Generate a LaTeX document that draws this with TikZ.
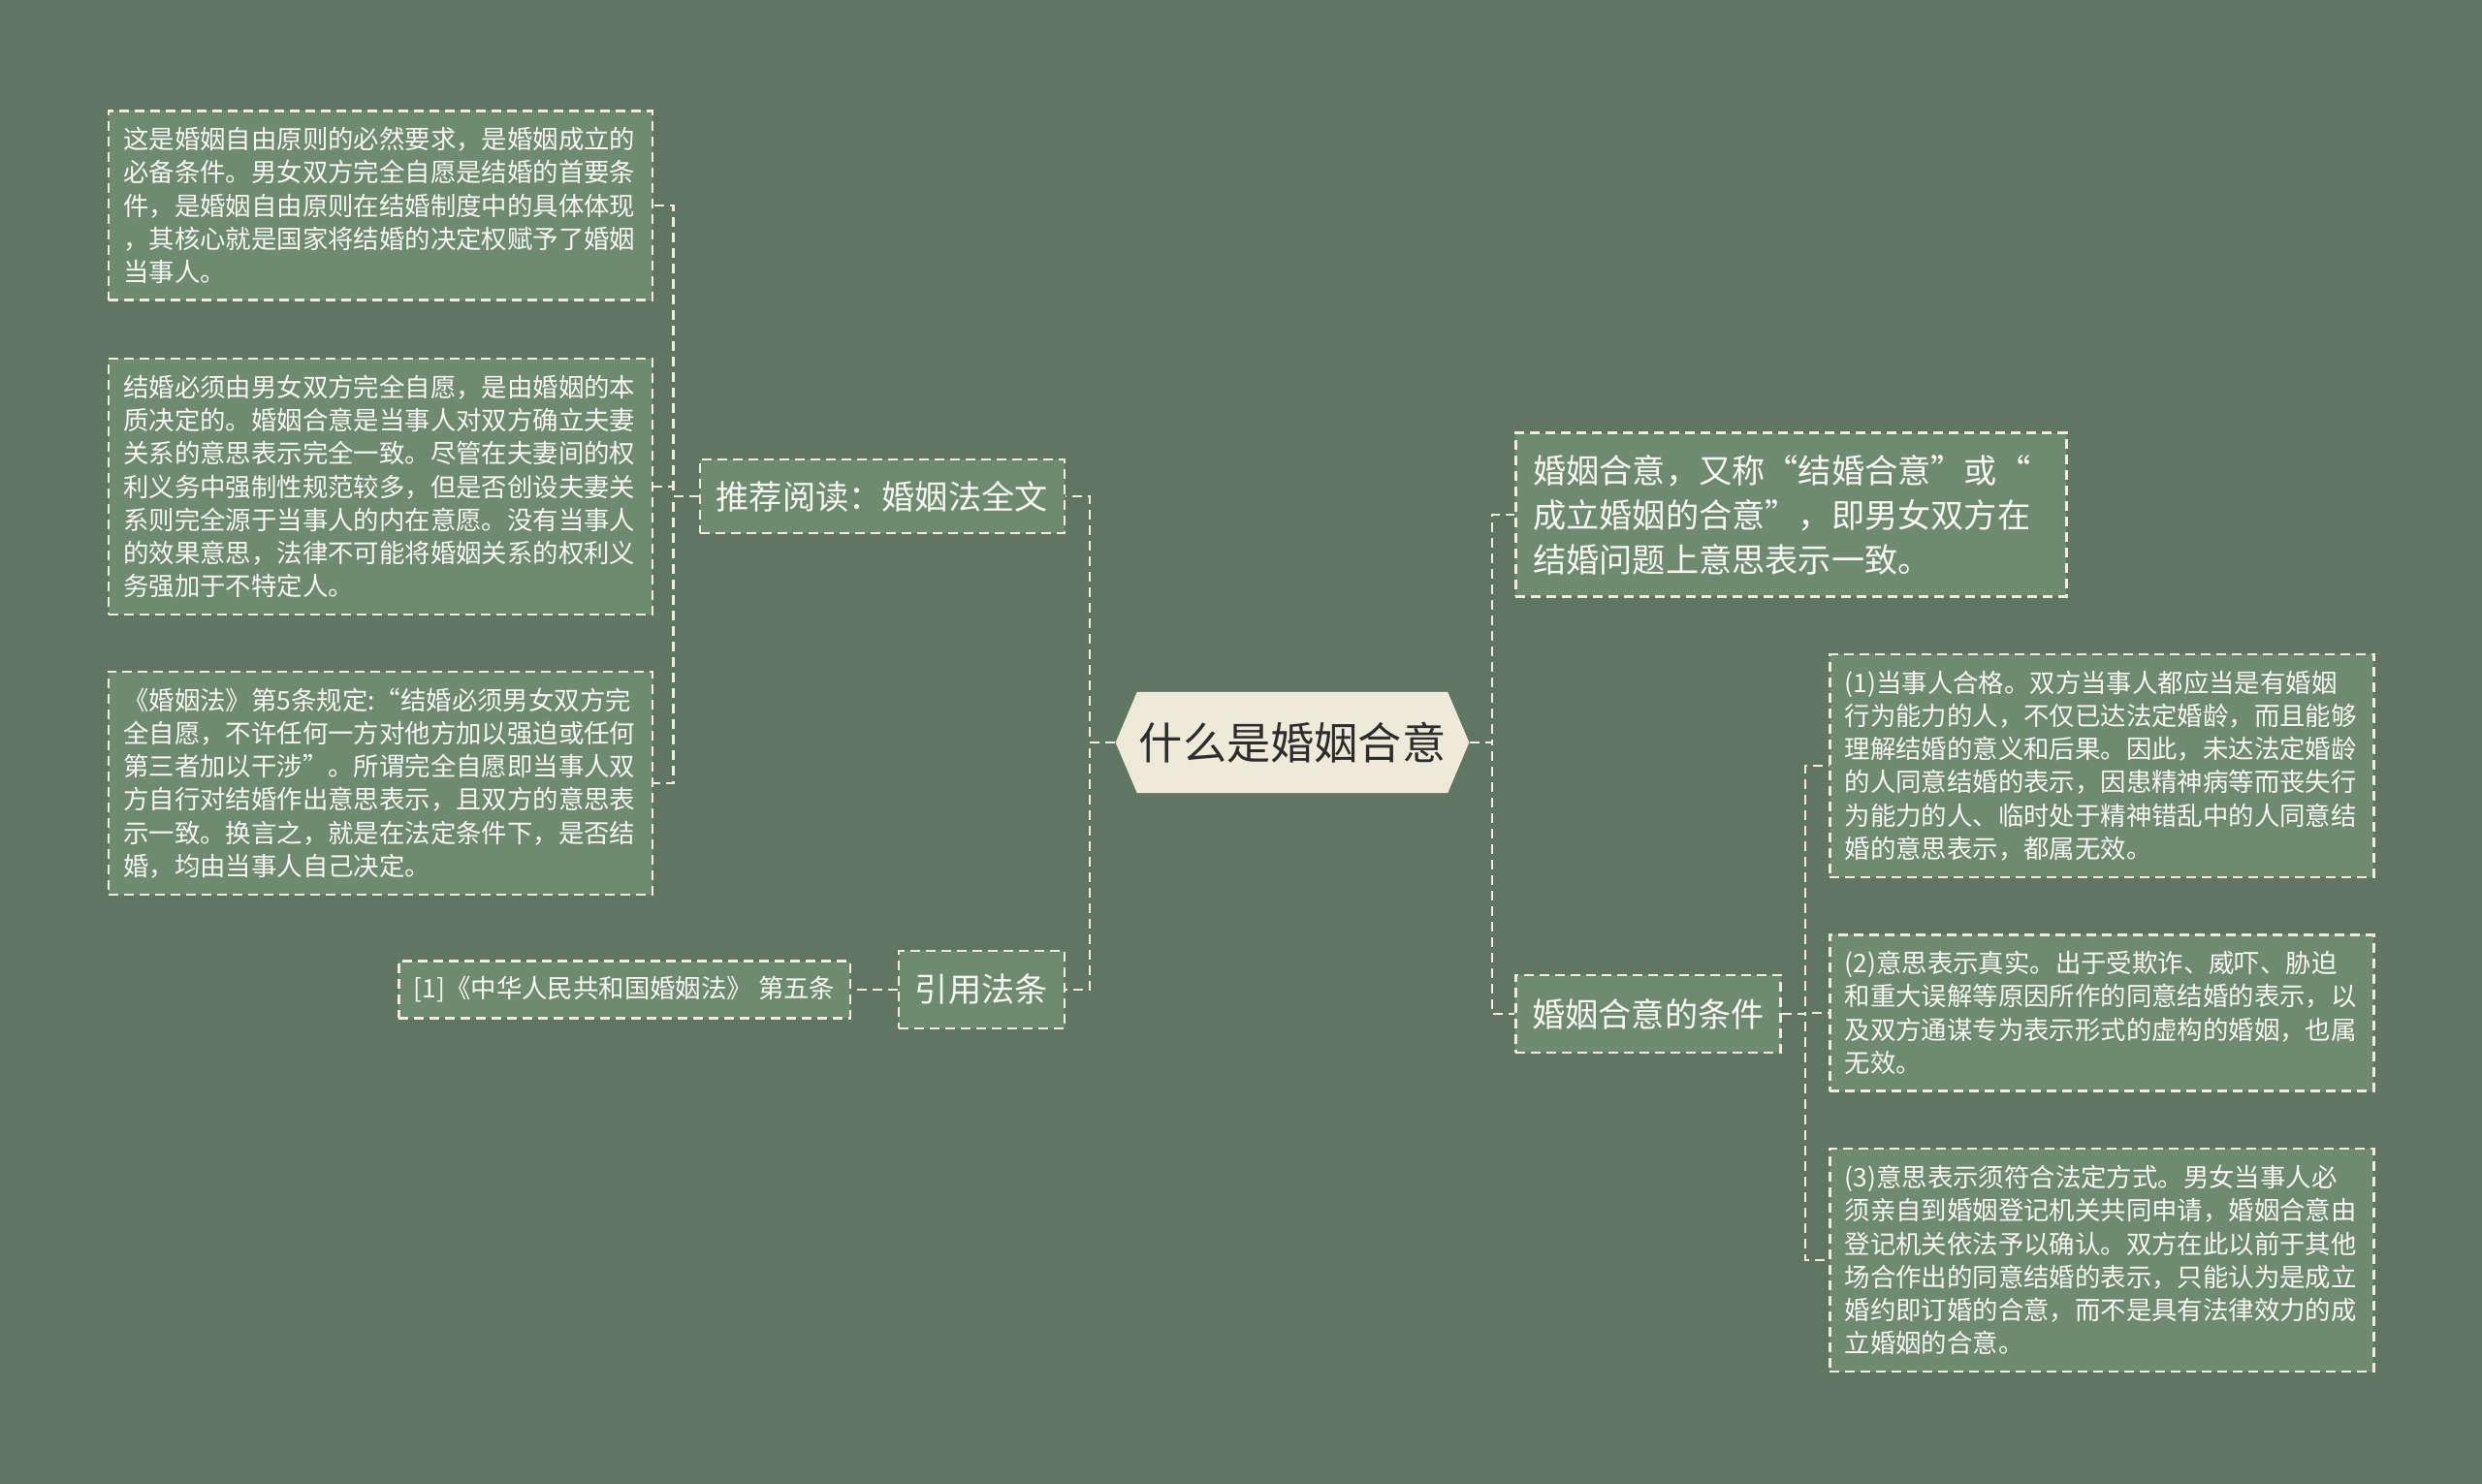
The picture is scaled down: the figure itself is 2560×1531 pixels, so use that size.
\documentclass[tikz,border=0pt]{standalone}
\usepackage{fontspec}
\usepackage{tikz}
\usepackage{xcolor}
\usetikzlibrary{shapes.symbols}
\newfontfamily\cjk{Noto Sans CJK SC}
\definecolor{bgclr}{RGB}{97,117,99}
\definecolor{boxclr}{RGB}{110,139,114}
\definecolor{lineclr}{RGB}{240,236,220}
\definecolor{rootclr}{RGB}{238,234,218}
\definecolor{rootink}{RGB}{45,45,45}
\definecolor{leafink}{RGB}{248,248,242}

\tikzset{
  link/.style={draw=lineclr,line width=1.25pt,dash pattern=on 5pt off 3pt},
  topic/.style={link,fill=boxclr,text=leafink,font=\cjk\fontsize{17.1}{23}\selectfont,
    inner xsep=8.5pt,minimum height=38pt},
  leaf/.style={link,fill=boxclr,text=leafink,font=\cjk\fontsize{13.2}{17.15}\selectfont,
    text width=265pt,align=left,inner xsep=7.75pt,inner ysep=8.4pt},
  hub/.style={signal,signal to=west and east,signal pointer angle=134,fill=rootclr,
    text=rootink,font=\cjk\fontsize{22.6}{26}\selectfont,inner xsep=1pt,inner ysep=15.6pt}
}

\begin{document}
\begin{tikzpicture}[x=0.5pt,y=-0.5pt]
    % canvas
    \fill[bgclr] (0,0) rectangle (2560,1531);
    \useasboundingbox (0,0) rectangle (2560,1531);

    % centre
    \node[hub] (root) at (1333,766) {什么是婚姻合意};

    % left branch
    \node[topic,anchor=east] (read) at (1099,512) {推荐阅读：婚姻法全文};
    \node[topic,anchor=east,minimum height=40pt] (cite) at (1099,1021) {引用法条};

    \node[leaf,anchor=east] (read1) at (674,212) {这是婚姻自由原则的必然要求，是婚姻成立的\\
      必备条件。男女双方完全自愿是结婚的首要条\\
      件，是婚姻自由原则在结婚制度中的具体体现\\
      ，其核心就是国家将结婚的决定权赋予了婚姻\\
      当事人。};
    \node[leaf,anchor=east] (read2) at (674,502) {结婚必须由男女双方完全自愿，是由婚姻的本\\
      质决定的。婚姻合意是当事人对双方确立夫妻\\
      关系的意思表示完全一致。尽管在夫妻间的权\\
      利义务中强制性规范较多，但是否创设夫妻关\\
      系则完全源于当事人的内在意愿。没有当事人\\
      的效果意思，法律不可能将婚姻关系的权利义\\
      务强加于不特定人。};
    \node[leaf,anchor=east] (read3) at (674,808) {《婚姻法》第5条规定:“结婚必须男女双方完\\
      全自愿，不许任何一方对他方加以强迫或任何\\
      第三者加以干涉”。所谓完全自愿即当事人双\\
      方自行对结婚作出意思表示，且双方的意思表\\
      示一致。换言之，就是在法定条件下，是否结\\
      婚，均由当事人自己决定。};
    \node[leaf,anchor=east,text width=,inner ysep=8pt] (cite1) at (878,1021) {[1]《中华人民共和国婚姻法》 第五条};

    % right branch
    \node[topic,anchor=west,text width=266pt,align=left,inner xsep=9pt,inner ysep=11.2pt] (def) at (1562,531) {婚姻合意，又称“结婚合意”或“\\
      成立婚姻的合意”，即男女双方在\\
      结婚问题上意思表示一致。};
    \node[topic,anchor=west,minimum height=40pt] (cond) at (1562,1046) {婚姻合意的条件};

    \node[leaf,anchor=west] (cond1) at (1886,790) {(1)当事人合格。双方当事人都应当是有婚姻\\
      行为能力的人，不仅已达法定婚龄，而且能够\\
      理解结婚的意义和后果。因此，未达法定婚龄\\
      的人同意结婚的表示，因患精神病等而丧失行\\
      为能力的人、临时处于精神错乱中的人同意结\\
      婚的意思表示，都属无效。};
    \node[leaf,anchor=west] (cond2) at (1886,1045) {(2)意思表示真实。出于受欺诈、威吓、胁迫\\
      和重大误解等原因所作的同意结婚的表示，以\\
      及双方通谋专为表示形式的虚构的婚姻，也属\\
      无效。};
    \node[leaf,anchor=west] (cond3) at (1886,1300) {(3)意思表示须符合法定方式。男女当事人必\\
      须亲自到婚姻登记机关共同申请，婚姻合意由\\
      登记机关依法予以确认。双方在此以前于其他\\
      场合作出的同意结婚的表示，只能认为是成立\\
      婚约即订婚的合意，而不是具有法律效力的成\\
      立婚姻的合意。};

    % connectors
    \draw[link] (root.west) -- ++(-26,0) |- (read.east);
    \draw[link] (root.west) -- ++(-26,0) |- (cite.east);
    \draw[link] (read.west) -- ++(-26,0) |- (read1.east);
    \draw[link] (read.west) -- ++(-26,0) |- (read2.east);
    \draw[link] (read.west) -- ++(-26,0) |- (read3.east);
    \draw[link] (cite.west) -- (cite1.east);
    \draw[link] (root.east) -- ++(23,0) |- (def.west);
    \draw[link] (root.east) -- ++(23,0) |- (cond.west);
    \draw[link] (cond.east) -- ++(24,0) |- (cond1.west);
    \draw[link] (cond.east) -- ++(24,0) |- (cond2.west);
    \draw[link] (cond.east) -- ++(24,0) |- (cond3.west);
\end{tikzpicture}
\end{document}
